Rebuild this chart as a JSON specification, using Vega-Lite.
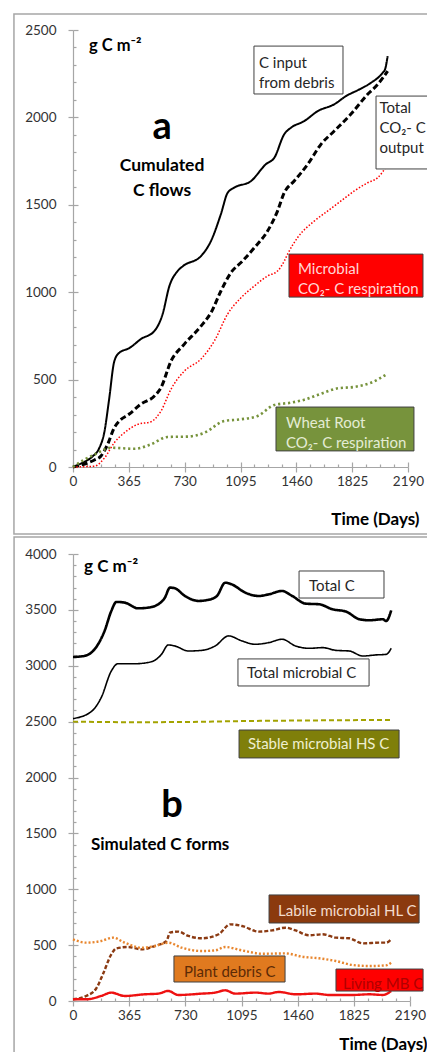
{
 "$schema": "https://vega.github.io/schema/vega-lite/v6.json",
 "background": "white",
 "padding": {"left": 13, "top": 13, "right": 0, "bottom": 0},
 "spacing": 87,
 "bounds": "flush",
 "resolve": {"scale": {"stroke": "independent", "strokeDash": "independent", "strokeWidth": "independent", "fill": "independent"}},
 "config": {
  "view": {"stroke": null},
  "font": "Lato",
  "axis": {"grid": false, "domainColor": "#a6a6a6", "tickColor": "#a6a6a6", "domainWidth": 1.2, "tickWidth": 1.2, "labelColor": "#333333", "labelFont": "Lato", "labelFontSize": 13.5, "labelOverlap": false, "format": "d", "titleFont": "Lato", "titleColor": "#000000"}
 },
 "datasets": {
  "frameA": [{"x0": -386, "x1": 2400, "y0": -383, "y1": 2591}],
  "frameB": [{"x0": -383, "x1": 2400, "y0": -600, "y1": 4152}],
  "linesA": [
   {"series":"input","day":0,"value":0},{"series":"input","day":40,"value":15},{"series":"input","day":85,"value":34},{"series":"input","day":130,"value":62},{"series":"input","day":170,"value":105},{"series":"input","day":205,"value":200},{"series":"input","day":235,"value":380},{"series":"input","day":270,"value":605},{"series":"input","day":303,"value":654},{"series":"input","day":368,"value":680},{"series":"input","day":444,"value":732},{"series":"input","day":532,"value":778},{"series":"input","day":586,"value":875},{"series":"input","day":630,"value":1035},{"series":"input","day":684,"value":1121},{"series":"input","day":720,"value":1150},{"series":"input","day":837,"value":1207},{"series":"input","day":902,"value":1293},{"series":"input","day":967,"value":1447},{"series":"input","day":1011,"value":1569},{"series":"input","day":1054,"value":1598},{"series":"input","day":1164,"value":1636},{"series":"input","day":1262,"value":1733},{"series":"input","day":1316,"value":1769},{"series":"input","day":1381,"value":1904},{"series":"input","day":1425,"value":1941},{"series":"input","day":1512,"value":1979},{"series":"input","day":1600,"value":2036},{"series":"input","day":1708,"value":2075},{"series":"input","day":1785,"value":2122},{"series":"input","day":1872,"value":2160},{"series":"input","day":1948,"value":2198},{"series":"input","day":2024,"value":2255},{"series":"input","day":2040,"value":2275},{"series":"input","day":2057,"value":2351},
   {"series":"total","day":0,"value":0},{"series":"total","day":85,"value":20},{"series":"total","day":140,"value":40},{"series":"total","day":183,"value":63},{"series":"total","day":227,"value":131},{"series":"total","day":270,"value":225},{"series":"total","day":303,"value":263},{"series":"total","day":368,"value":303},{"series":"total","day":444,"value":360},{"series":"total","day":532,"value":406},{"series":"total","day":575,"value":454},{"series":"total","day":641,"value":606},{"series":"total","day":728,"value":703},{"series":"total","day":837,"value":806},{"series":"total","day":902,"value":883},{"series":"total","day":967,"value":1007},{"series":"total","day":1032,"value":1111},{"series":"total","day":1108,"value":1178},{"series":"total","day":1185,"value":1254},{"series":"total","day":1272,"value":1350},{"series":"total","day":1337,"value":1464},{"series":"total","day":1381,"value":1569},{"series":"total","day":1446,"value":1636},{"series":"total","day":1534,"value":1731},{"series":"total","day":1621,"value":1846},{"series":"total","day":1708,"value":1922},{"series":"total","day":1817,"value":2019},{"series":"total","day":1926,"value":2132},{"series":"total","day":1992,"value":2189},{"series":"total","day":2057,"value":2265},
   {"series":"microbial","day":0,"value":0},{"series":"microbial","day":80,"value":2},{"series":"microbial","day":142,"value":5},{"series":"microbial","day":207,"value":53},{"series":"microbial","day":270,"value":139},{"series":"microbial","day":336,"value":196},{"series":"microbial","day":423,"value":244},{"series":"microbial","day":510,"value":259},{"series":"microbial","day":575,"value":320},{"series":"microbial","day":641,"value":446},{"series":"microbial","day":728,"value":549},{"series":"microbial","day":837,"value":618},{"series":"microbial","day":924,"value":721},{"series":"microbial","day":1011,"value":875},{"series":"microbial","day":1098,"value":968},{"series":"microbial","day":1185,"value":1035},{"series":"microbial","day":1272,"value":1093},{"series":"microbial","day":1337,"value":1121},{"series":"microbial","day":1381,"value":1178},{"series":"microbial","day":1403,"value":1218},{"series":"microbial","day":1468,"value":1312},{"series":"microbial","day":1577,"value":1407},{"series":"microbial","day":1664,"value":1464},{"series":"microbial","day":1752,"value":1522},{"series":"microbial","day":1839,"value":1579},{"series":"microbial","day":1926,"value":1626},{"series":"microbial","day":1992,"value":1655},{"series":"microbial","day":2057,"value":1731},
   {"series":"root","day":0,"value":0},{"series":"root","day":60,"value":35},{"series":"root","day":142,"value":72},{"series":"root","day":249,"value":110},{"series":"root","day":401,"value":104},{"series":"root","day":510,"value":130},{"series":"root","day":619,"value":172},{"series":"root","day":750,"value":174},{"series":"root","day":859,"value":196},{"series":"root","day":989,"value":263},{"series":"root","day":1098,"value":273},{"series":"root","day":1207,"value":292},{"series":"root","day":1316,"value":355},{"series":"root","day":1425,"value":368},{"series":"root","day":1512,"value":385},{"series":"root","day":1621,"value":419},{"series":"root","day":1730,"value":450},{"series":"root","day":1839,"value":458},{"series":"root","day":1948,"value":482},{"series":"root","day":2057,"value":534}
  ],
  "linesB": [
   {"series":"totalC","day":0,"value":3078},{"series":"totalC","day":74,"value":3088},{"series":"totalC","day":140,"value":3147},{"series":"totalC","day":205,"value":3311},{"series":"totalC","day":249,"value":3490},{"series":"totalC","day":282,"value":3571},{"series":"totalC","day":336,"value":3565},{"series":"totalC","day":423,"value":3514},{"series":"totalC","day":488,"value":3520},{"series":"totalC","day":554,"value":3550},{"series":"totalC","day":597,"value":3609},{"series":"totalC","day":630,"value":3699},{"series":"totalC","day":662,"value":3693},{"series":"totalC","day":728,"value":3624},{"series":"totalC","day":815,"value":3580},{"series":"totalC","day":880,"value":3590},{"series":"totalC","day":935,"value":3624},{"series":"totalC","day":989,"value":3743},{"series":"totalC","day":1032,"value":3728},{"series":"totalC","day":1120,"value":3654},{"series":"totalC","day":1207,"value":3624},{"series":"totalC","day":1272,"value":3639},{"series":"totalC","day":1359,"value":3669},{"series":"totalC","day":1425,"value":3624},{"series":"totalC","day":1512,"value":3556},{"series":"totalC","day":1600,"value":3550},{"series":"totalC","day":1687,"value":3505},{"series":"totalC","day":1774,"value":3485},{"series":"totalC","day":1861,"value":3416},{"series":"totalC","day":1926,"value":3407},{"series":"totalC","day":2014,"value":3416},{"series":"totalC","day":2035,"value":3400},{"series":"totalC","day":2068,"value":3496},
   {"series":"microbialC","day":0,"value":2527},{"series":"microbialC","day":118,"value":2589},{"series":"microbialC","day":183,"value":2714},{"series":"microbialC","day":249,"value":2953},{"series":"microbialC","day":292,"value":3018},{"series":"microbialC","day":401,"value":3018},{"series":"microbialC","day":510,"value":3036},{"series":"microbialC","day":575,"value":3102},{"series":"microbialC","day":619,"value":3186},{"series":"microbialC","day":662,"value":3177},{"series":"microbialC","day":750,"value":3132},{"series":"microbialC","day":837,"value":3138},{"series":"microbialC","day":924,"value":3177},{"series":"microbialC","day":1011,"value":3267},{"series":"microbialC","day":1098,"value":3222},{"series":"microbialC","day":1185,"value":3192},{"series":"microbialC","day":1272,"value":3207},{"series":"microbialC","day":1359,"value":3237},{"series":"microbialC","day":1446,"value":3177},{"series":"microbialC","day":1534,"value":3156},{"series":"microbialC","day":1621,"value":3162},{"series":"microbialC","day":1708,"value":3138},{"series":"microbialC","day":1795,"value":3132},{"series":"microbialC","day":1883,"value":3087},{"series":"microbialC","day":1970,"value":3097},{"series":"microbialC","day":2035,"value":3102},{"series":"microbialC","day":2068,"value":3156},
   {"series":"stableHS","day":0,"value":2500},{"series":"stableHS","day":400,"value":2495},{"series":"stableHS","day":750,"value":2497},{"series":"stableHS","day":1100,"value":2505},{"series":"stableHS","day":1500,"value":2510},{"series":"stableHS","day":1800,"value":2513},{"series":"stableHS","day":2068,"value":2515},
   {"series":"labileHL","day":0,"value":15},{"series":"labileHL","day":85,"value":45},{"series":"labileHL","day":150,"value":110},{"series":"labileHL","day":194,"value":238},{"series":"labileHL","day":249,"value":417},{"series":"labileHL","day":282,"value":471},{"series":"labileHL","day":358,"value":483},{"series":"labileHL","day":444,"value":462},{"series":"labileHL","day":532,"value":492},{"series":"labileHL","day":608,"value":537},{"series":"labileHL","day":630,"value":612},{"series":"labileHL","day":684,"value":621},{"series":"labileHL","day":750,"value":582},{"series":"labileHL","day":837,"value":561},{"series":"labileHL","day":946,"value":597},{"series":"labileHL","day":1022,"value":686},{"series":"labileHL","day":1098,"value":671},{"series":"labileHL","day":1207,"value":621},{"series":"labileHL","day":1294,"value":632},{"series":"labileHL","day":1381,"value":656},{"series":"labileHL","day":1446,"value":632},{"series":"labileHL","day":1534,"value":588},{"series":"labileHL","day":1621,"value":597},{"series":"labileHL","day":1708,"value":567},{"series":"labileHL","day":1795,"value":561},{"series":"labileHL","day":1883,"value":516},{"series":"labileHL","day":1992,"value":522},{"series":"labileHL","day":2035,"value":522},{"series":"labileHL","day":2068,"value":552},
   {"series":"debris","day":0,"value":552},{"series":"debris","day":85,"value":522},{"series":"debris","day":183,"value":537},{"series":"debris","day":260,"value":567},{"series":"debris","day":336,"value":522},{"series":"debris","day":444,"value":477},{"series":"debris","day":532,"value":492},{"series":"debris","day":619,"value":522},{"series":"debris","day":706,"value":477},{"series":"debris","day":837,"value":447},{"series":"debris","day":924,"value":453},{"series":"debris","day":989,"value":483},{"series":"debris","day":1098,"value":453},{"series":"debris","day":1229,"value":423},{"series":"debris","day":1381,"value":426},{"series":"debris","day":1490,"value":396},{"series":"debris","day":1600,"value":382},{"series":"debris","day":1708,"value":358},{"series":"debris","day":1817,"value":322},{"series":"debris","day":1926,"value":313},{"series":"debris","day":2035,"value":319},{"series":"debris","day":2068,"value":343},
   {"series":"livingMB","day":0,"value":15},{"series":"livingMB","day":85,"value":15},{"series":"livingMB","day":183,"value":45},{"series":"livingMB","day":249,"value":75},{"series":"livingMB","day":336,"value":45},{"series":"livingMB","day":466,"value":60},{"series":"livingMB","day":554,"value":66},{"series":"livingMB","day":619,"value":90},{"series":"livingMB","day":684,"value":54},{"series":"livingMB","day":837,"value":66},{"series":"livingMB","day":924,"value":75},{"series":"livingMB","day":989,"value":96},{"series":"livingMB","day":1054,"value":66},{"series":"livingMB","day":1185,"value":75},{"series":"livingMB","day":1272,"value":66},{"series":"livingMB","day":1337,"value":81},{"series":"livingMB","day":1446,"value":60},{"series":"livingMB","day":1577,"value":66},{"series":"livingMB","day":1664,"value":54},{"series":"livingMB","day":1817,"value":54},{"series":"livingMB","day":1926,"value":60},{"series":"livingMB","day":2014,"value":54},{"series":"livingMB","day":2068,"value":90}
  ],
  "boxesA": [
   {"id":"cin","x0":1183,"x1":1765,"y0":2134,"y1":2408},
   {"id":"tot","x0":1981,"x1":2400,"y0":1705,"y1":2122},
   {"id":"mic","x0":1412,"x1":2288,"y0":972,"y1":1218},
   {"id":"whe","x0":1327,"x1":2229,"y0":92,"y1":343}
  ],
  "labelsA": [
   {"id":"cin","x":1216,"y":2282,"label":"C  input\nfrom debris"},
   {"id":"tot","x":2003,"y":2025,"label":"Total\nCO₂- C\noutput"},
   {"id":"mic","x":1471,"y":1104,"label":"Microbial\nCO₂- C respiration"},
   {"id":"whe","x":1392,"y":223,"label":"Wheat Root\nCO₂- C respiration"}
  ],
  "headLeftA": [{"x":105,"y":2380,"label":"g C m⁻²"}],
  "headCenterA": [{"x":582,"y":1693,"label":"Cumulated"},{"x":582,"y":1550,"label":"C flows"}],
  "bigA": [{"x":582,"y":1876,"label":"a"}],
  "boxesB": [
   {"id":"totc","x0":1469,"x1":2021,"y0":3606,"y1":3848},
   {"id":"tmic","x0":1072,"x1":1924,"y0":2819,"y1":3061},
   {"id":"hs","x0":1079,"x1":2119,"y0":2175,"y1":2425},
   {"id":"hl","x0":1274,"x1":2249,"y0":698,"y1":949},
   {"id":"deb","x0":656,"x1":1378,"y0":170,"y1":403},
   {"id":"mb","x0":1709,"x1":2275,"y0":89,"y1":286}
  ],
  "labelsB": [
   {"id":"totc","x":1534,"y":3669,"label":"Total C"},
   {"id":"tmic","x":1131,"y":2891,"label":"Total microbial C"},
   {"id":"hs","x":1137,"y":2255,"label":"Stable microbial HS C"},
   {"id":"hl","x":1332,"y":761,"label":"Labile microbial HL C"},
   {"id":"deb","x":721,"y":215,"label":"Plant debris C"},
   {"id":"mb","x":1755,"y":107,"label":"Living MB C"}
  ],
  "headLeftB": [{"x":72,"y":3839,"label":"g C m⁻²"},{"x":117,"y":1351,"label":"Simulated C forms"}],
  "bigB": [{"x":643,"y":1647,"label":"b"}]
 },
 "vconcat": [
  {
   "width": 335, "height": 437,
   "resolve": {"axis": {"x": "independent", "y": "independent"}, "scale": {"fill": "independent"}},
   "layer": [
    {"data": {"name": "frameA"}, "mark": {"type": "rect", "filled": false, "stroke": "#a6a6a6", "strokeWidth": 1.5},
     "encoding": {"x": {"field": "x0", "type": "quantitative", "scale": {"domain": [0, 2190], "nice": false, "zero": false}, "axis": null}, "x2": {"field": "x1"},
                  "y": {"field": "y0", "type": "quantitative", "scale": {"domain": [0, 2500], "nice": false, "zero": false}, "axis": null}, "y2": {"field": "y1"}}},
    {"data": {"name": "linesA"}, "mark": {"type": "line", "interpolate": "monotone"},
     "encoding": {
      "x": {"field": "day", "type": "quantitative", "scale": {"domain": [0, 2190], "nice": false, "zero": false},
            "axis": {"orient": "bottom", "values": [0,91.25,182.5,273.75,365,456.25,547.5,638.75,730,821.25,912.5,1003.75,1095,1186.25,1277.5,1368.75,1460,1551.25,1642.5,1733.75,1825,1916.25,2007.5,2098.75,2190], "labels": false, "domain": false, "title": null,
                     "tickSize": {"condition": {"test": "datum.value % 365 === 0", "value": -5}, "value": -3}}},
      "y": {"field": "value", "type": "quantitative", "scale": {"domain": [0, 2500], "nice": false, "zero": false},
            "axis": {"orient": "left", "values": [0,100,200,300,400,500,600,700,800,900,1000,1100,1200,1300,1400,1500,1600,1700,1800,1900,2000,2100,2200,2300,2400,2500], "labels": false, "domain": false, "title": null,
                     "tickSize": {"condition": {"test": "datum.value % 500 === 0", "value": -5}, "value": -3}}},
      "detail": {"field": "series"},
      "stroke": {"field": "series", "type": "nominal", "scale": {"domain": ["input","total","microbial","root"], "range": ["#000000","#000000","#ff0000","#77933c"]}, "legend": null},
      "strokeDash": {"field": "series", "type": "nominal", "scale": {"domain": ["input","total","microbial","root"], "range": [[1,0],[6,3],[1.5,1.8],[2.2,2.8]]}, "legend": null},
      "strokeWidth": {"field": "series", "type": "nominal", "scale": {"type": "ordinal", "domain": ["input","total","microbial","root"], "range": [2,3,1.5,2.6]}, "legend": null}
     }},
    {"data": {"name": "boxesA"}, "mark": {"type": "rect", "stroke": "#404040", "strokeWidth": 1},
     "encoding": {
      "x": {"field": "x0", "type": "quantitative", "scale": {"domain": [0, 2190], "nice": false, "zero": false},
            "axis": {"orient": "bottom", "values": [0,365,730,1095,1460,1825,2190], "tickSize": 5, "labelPadding": 2, "labelFlush": false,
                     "title": "Time (Days)", "titleFontSize": 17, "titleFontWeight": "bold", "titleAlign": "right", "titleAnchor": "end", "titleX": 346, "titleY": 52, "titleBaseline": "middle"}},
      "x2": {"field": "x1"},
      "y": {"field": "y0", "type": "quantitative", "scale": {"domain": [0, 2500], "nice": false, "zero": false},
            "axis": {"orient": "left", "values": [0,500,1000,1500,2000,2500], "tickSize": 5, "labelPadding": 12, "title": null}},
      "y2": {"field": "y1"},
      "fill": {"field": "id", "type": "nominal", "scale": {"domain": ["cin","tot","mic","whe"], "range": ["#ffffff","#ffffff","#ff0000","#77933c"]}, "legend": null}
     }},
    {"data": {"name": "labelsA"}, "mark": {"type": "text", "align": "left", "baseline": "alphabetic", "fontSize": 15, "lineBreak": "\n", "lineHeight": 20},
     "encoding": {
      "x": {"field": "x", "type": "quantitative", "scale": {"domain": [0, 2190], "nice": false, "zero": false}, "axis": null},
      "y": {"field": "y", "type": "quantitative", "scale": {"domain": [0, 2500], "nice": false, "zero": false}, "axis": null},
      "text": {"field": "label"},
      "fill": {"field": "id", "type": "nominal", "scale": {"domain": ["cin","tot","mic","whe"], "range": ["#262626","#262626","#ffd6d6","#e4ecd4"]}, "legend": null}
     }},
    {"data": {"name": "headLeftA"}, "mark": {"type": "text", "align": "left", "baseline": "alphabetic", "fontSize": 16.5, "fontWeight": "bold", "color": "#000000"},
     "encoding": {
      "x": {"field": "x", "type": "quantitative", "scale": {"domain": [0, 2190], "nice": false, "zero": false}, "axis": null},
      "y": {"field": "y", "type": "quantitative", "scale": {"domain": [0, 2500], "nice": false, "zero": false}, "axis": null},
      "text": {"field": "label"}}},
    {"data": {"name": "headCenterA"}, "mark": {"type": "text", "align": "center", "baseline": "alphabetic", "fontSize": 17.5, "fontWeight": "bold", "color": "#000000"},
     "encoding": {
      "x": {"field": "x", "type": "quantitative", "scale": {"domain": [0, 2190], "nice": false, "zero": false}, "axis": null},
      "y": {"field": "y", "type": "quantitative", "scale": {"domain": [0, 2500], "nice": false, "zero": false}, "axis": null},
      "text": {"field": "label"}}},
    {"data": {"name": "bigA"}, "mark": {"type": "text", "align": "center", "baseline": "alphabetic", "fontSize": 38, "fontWeight": "bold", "color": "#000000"},
     "encoding": {
      "x": {"field": "x", "type": "quantitative", "scale": {"domain": [0, 2190], "nice": false, "zero": false}, "axis": null},
      "y": {"field": "y", "type": "quantitative", "scale": {"domain": [0, 2500], "nice": false, "zero": false}, "axis": null},
      "text": {"field": "label"}}}
   ]
  },
  {
   "width": 337, "height": 447,
   "resolve": {"axis": {"x": "independent", "y": "independent"}, "scale": {"fill": "independent"}},
   "layer": [
    {"data": {"name": "frameB"}, "mark": {"type": "rect", "filled": false, "stroke": "#a6a6a6", "strokeWidth": 1.5},
     "encoding": {"x": {"field": "x0", "type": "quantitative", "scale": {"domain": [0, 2190], "nice": false, "zero": false}, "axis": null}, "x2": {"field": "x1"},
                  "y": {"field": "y0", "type": "quantitative", "scale": {"domain": [0, 4000], "nice": false, "zero": false}, "axis": null}, "y2": {"field": "y1"}}},
    {"data": {"name": "linesB"}, "mark": {"type": "line", "interpolate": "monotone"},
     "encoding": {
      "x": {"field": "day", "type": "quantitative", "scale": {"domain": [0, 2190], "nice": false, "zero": false},
            "axis": {"orient": "bottom", "values": [0,91.25,182.5,273.75,365,456.25,547.5,638.75,730,821.25,912.5,1003.75,1095,1186.25,1277.5,1368.75,1460,1551.25,1642.5,1733.75,1825,1916.25,2007.5,2098.75,2190], "labels": false, "domain": false, "title": null,
                     "tickSize": {"condition": {"test": "datum.value % 365 === 0", "value": -5}, "value": -3}}},
      "y": {"field": "value", "type": "quantitative", "scale": {"domain": [0, 4000], "nice": false, "zero": false},
            "axis": {"orient": "left", "values": [0,100,200,300,400,500,600,700,800,900,1000,1100,1200,1300,1400,1500,1600,1700,1800,1900,2000,2100,2200,2300,2400,2500,2600,2700,2800,2900,3000,3100,3200,3300,3400,3500,3600,3700,3800,3900,4000], "labels": false, "domain": false, "title": null,
                     "tickSize": {"condition": {"test": "datum.value % 500 === 0", "value": -5}, "value": -3}}},
      "detail": {"field": "series"},
      "stroke": {"field": "series", "type": "nominal", "scale": {"domain": ["totalC","microbialC","stableHS","labileHL","debris","livingMB"], "range": ["#000000","#000000","#a3a300","#8b3a12","#e8862e","#ee1111"]}, "legend": null},
      "strokeDash": {"field": "series", "type": "nominal", "scale": {"domain": ["totalC","microbialC","stableHS","labileHL","debris","livingMB"], "range": [[1,0],[1,0],[5,3],[4,2],[2,2],[1,0]]}, "legend": null},
      "strokeWidth": {"field": "series", "type": "nominal", "scale": {"type": "ordinal", "domain": ["totalC","microbialC","stableHS","labileHL","debris","livingMB"], "range": [2.6,1.6,2,2.4,2.4,2.4]}, "legend": null}
     }},
    {"data": {"name": "boxesB"}, "mark": {"type": "rect", "stroke": "#404040", "strokeWidth": 1},
     "encoding": {
      "x": {"field": "x0", "type": "quantitative", "scale": {"domain": [0, 2190], "nice": false, "zero": false},
            "axis": {"orient": "bottom", "values": [0,365,730,1095,1460,1825,2190], "tickSize": 5, "labelPadding": 2, "labelFlush": false,
                     "title": "Time (Days)", "titleFontSize": 17, "titleFontWeight": "bold", "titleAlign": "right", "titleAnchor": "end", "titleX": 354, "titleY": 43, "titleBaseline": "middle"}},
      "x2": {"field": "x1"},
      "y": {"field": "y0", "type": "quantitative", "scale": {"domain": [0, 4000], "nice": false, "zero": false},
            "axis": {"orient": "left", "values": [0,500,1000,1500,2000,2500,3000,3500,4000], "tickSize": 5, "labelPadding": 12, "title": null}},
      "y2": {"field": "y1"},
      "fill": {"field": "id", "type": "nominal", "scale": {"domain": ["totc","tmic","hs","hl","deb","mb"], "range": ["#ffffff","#ffffff","#7f7f0a","#8b3a0e","#e07a1f","#ff0000"]}, "legend": null}
     }},
    {"data": {"name": "labelsB"}, "mark": {"type": "text", "align": "left", "baseline": "alphabetic", "fontSize": 15},
     "encoding": {
      "x": {"field": "x", "type": "quantitative", "scale": {"domain": [0, 2190], "nice": false, "zero": false}, "axis": null},
      "y": {"field": "y", "type": "quantitative", "scale": {"domain": [0, 4000], "nice": false, "zero": false}, "axis": null},
      "text": {"field": "label"},
      "fill": {"field": "id", "type": "nominal", "scale": {"domain": ["totc","tmic","hs","hl","deb","mb"], "range": ["#262626","#262626","#efefd0","#f3dccd","#5c2a06","#b00000"]}, "legend": null}
     }},
    {"data": {"name": "headLeftB"}, "mark": {"type": "text", "align": "left", "baseline": "alphabetic", "fontSize": 17, "fontWeight": "bold", "color": "#000000"},
     "encoding": {
      "x": {"field": "x", "type": "quantitative", "scale": {"domain": [0, 2190], "nice": false, "zero": false}, "axis": null},
      "y": {"field": "y", "type": "quantitative", "scale": {"domain": [0, 4000], "nice": false, "zero": false}, "axis": null},
      "text": {"field": "label"}}},
    {"data": {"name": "bigB"}, "mark": {"type": "text", "align": "center", "baseline": "alphabetic", "fontSize": 38, "fontWeight": "bold", "color": "#000000"},
     "encoding": {
      "x": {"field": "x", "type": "quantitative", "scale": {"domain": [0, 2190], "nice": false, "zero": false}, "axis": null},
      "y": {"field": "y", "type": "quantitative", "scale": {"domain": [0, 4000], "nice": false, "zero": false}, "axis": null},
      "text": {"field": "label"}}}
   ]
  }
 ]
}
